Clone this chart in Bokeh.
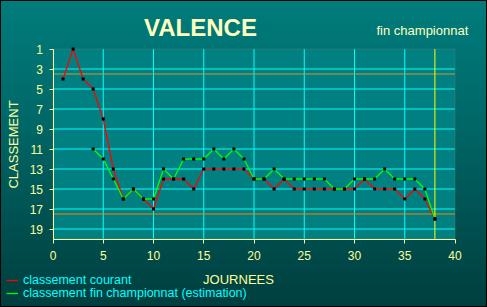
from bokeh.plotting import figure
from bokeh.models import (Range1d, FixedTicker, Label, BoxAnnotation, Legend, LegendItem)
from bokeh.embed import file_html
from bokeh.resources import INLINE

# ---------------- data ----------------
team = "VALENCE"
subtitle = "fin championnat"
days_current = list(range(1, 39))
rank_current = [4, 1, 4, 5, 8, 13, 16, 15, 16, 17,
                14, 14, 14, 15, 13, 13, 13, 13, 13, 14,
                14, 15, 14, 15, 15, 15, 15, 15, 15, 15,
                14, 15, 15, 15, 16, 15, 16, 18]
days_final = list(range(4, 39))
rank_final = [11, 12, 14, 16, 15, 16, 16, 13, 14, 12,
              12, 12, 11, 12, 11, 12, 14, 14, 13, 14,
              14, 14, 14, 14, 15, 15, 14, 14, 14, 13,
              14, 14, 14, 15, 18]
x_ticks = [0, 5, 10, 15, 20, 25, 30, 35, 40]
y_ticks = [1, 3, 5, 7, 9, 11, 13, 15, 17, 19]
x_grid = [5, 10, 15, 20, 25, 30, 35]
y_grid = [3, 5, 7, 9, 11, 13, 15, 17, 19]
day_min, day_max = 0, 40
rank_top, rank_bottom = 1, 20
europe_line = 3.5
relegation_line = 17.5
current_day = 38
label_current = "classement courant"
label_final = "classement fin championnat (estimation)"
x_title = "JOURNEES"
y_title = "CLASSEMENT"

# ---------------- layout / style ----------------
W, H = 487, 307
PX_DAY0, PX_PER_DAY = 52.5, 10.05      # pixel of day 0, pixels per day
PY_RANK1, PY_PER_RANK = 48.5, 10.0     # pixel of rank 1, pixels per rank
FONT = "Liberation Sans"
PALE = "#FFFF99"
CREAM = "#FFFFC0"
LW = 1.3

x_lo = (0 - PX_DAY0) / PX_PER_DAY
x_hi = (W - PX_DAY0) / PX_PER_DAY
y_top = 1 + (0 - PY_RANK1) / PY_PER_RANK
y_bot = 1 + (H - PY_RANK1) / PY_PER_RANK

p = figure(width=W, height=H, output_backend="svg", toolbar_location=None,
           x_range=Range1d(x_lo, x_hi), y_range=Range1d(y_bot, y_top),
           min_border=0)
p.background_fill_alpha = 0
p.border_fill_alpha = 0
p.outline_line_color = None
p.styles = {"background-image": "linear-gradient(to bottom, #007c7c 0%, #006a6a 35%, #003e3e 100%)",
            "box-shadow": "inset 0 0 0 1px #000000"}
p.grid.visible = False

# plot area fill
p.add_layout(BoxAnnotation(left=day_min, right=day_max, top=rank_top, bottom=rank_bottom,
                           fill_color="#008080", fill_alpha=1.0, line_color=None,
                           level="image"))

# grid lines
p.segment(x0=day_min, x1=day_max, y0=y_grid, y1=y_grid, line_color="#00FFFF",
          line_width=1, level="underlay")
p.segment(x0=x_grid, x1=x_grid, y0=rank_top, y1=rank_bottom, line_color="#00FFFF",
          line_width=1, level="underlay")
# reference lines
p.segment(x0=day_min, x1=day_max, y0=europe_line, y1=europe_line,
          line_color="#CC9933", line_width=1, level="underlay")
p.segment(x0=day_min, x1=day_max, y0=relegation_line, y1=relegation_line,
          line_color="#FF8000", line_width=1, level="underlay")
p.segment(x0=current_day, x1=current_day, y0=rank_top, y1=rank_bottom,
          line_color="#FFFF00", line_width=1, level="underlay")
# frame
p.add_layout(BoxAnnotation(left=day_min, right=day_max, top=rank_top, bottom=rank_bottom,
                           fill_alpha=0, line_color="#808080", line_width=1,
                           level="underlay"))

# axes (fixed at the plot-area edges)
xa, ya = p.xaxis[0], p.yaxis[0]
xa.fixed_location = rank_bottom
ya.fixed_location = day_min
xa.bounds = (day_min, day_max)
ya.bounds = (rank_top, rank_bottom)
for ax in (xa, ya):
    ax.axis_line_color = PALE
    ax.major_tick_line_color = PALE
    ax.minor_tick_line_color = None
    ax.major_tick_out = 4
    ax.major_tick_in = 0
    ax.major_label_text_color = PALE
    ax.major_label_text_font = FONT
    ax.major_label_text_font_size = "12px"
    ax.axis_label_text_color = PALE
    ax.axis_label_text_font = FONT
    ax.axis_label_text_font_size = "13px"
    ax.axis_label_text_font_style = "normal"
xa.ticker = FixedTicker(ticks=x_ticks)
ya.ticker = FixedTicker(ticks=y_ticks)
xa.major_label_standoff = 8
ya.major_label_standoff = 6
ya.axis_label = y_title
ya.axis_label_standoff = 6

# data
r_cur = p.line(days_current, rank_current, line_color="#FF0000", line_width=LW)
r_fin = p.line(days_final, rank_final, line_color="#00FF00", line_width=LW)
p.scatter(days_current, rank_current, marker="square", size=3,
          fill_color="black", line_color=None)
p.scatter(days_final, rank_final, marker="square", size=3,
          fill_color="black", line_color=None)

# texts (screen units: pixels from the bottom-left corner)
p.add_layout(Label(x=200, y=H - 27, x_units="screen", y_units="screen",
                   text=team, text_font=FONT, text_font_size="24px",
                   text_font_style="bold", text_color=CREAM,
                   text_align="center", text_baseline="middle"))
p.add_layout(Label(x=376, y=H - 29.5, x_units="screen", y_units="screen",
                   text=subtitle, text_font=FONT, text_font_size="13px",
                   text_color=CREAM, text_align="left", text_baseline="middle"))
p.add_layout(Label(x=238, y=H - 279, x_units="screen", y_units="screen",
                   text=x_title, text_font=FONT, text_font_size="13px",
                   text_color=PALE, text_align="center", text_baseline="middle"))

# legend: one entry per legend box, stacked as in the original
legend_style = dict(orientation="vertical", background_fill_alpha=0,
                    border_line_color=None, label_text_color="#00FFFF",
                    label_text_font=FONT, label_text_font_size="12.5px",
                    glyph_width=12, glyph_height=12, label_height=12,
                    label_standoff=5, spacing=0, padding=0, margin=0)
p.add_layout(Legend(items=[LegendItem(label=label_current, renderers=[r_cur])],
                    location=(6, 20.5), **legend_style))
p.add_layout(Legend(items=[LegendItem(label=label_final, renderers=[r_fin])],
                    location=(6, 7.5), **legend_style))

open("out.html", "w").write(file_html(p, INLINE))
